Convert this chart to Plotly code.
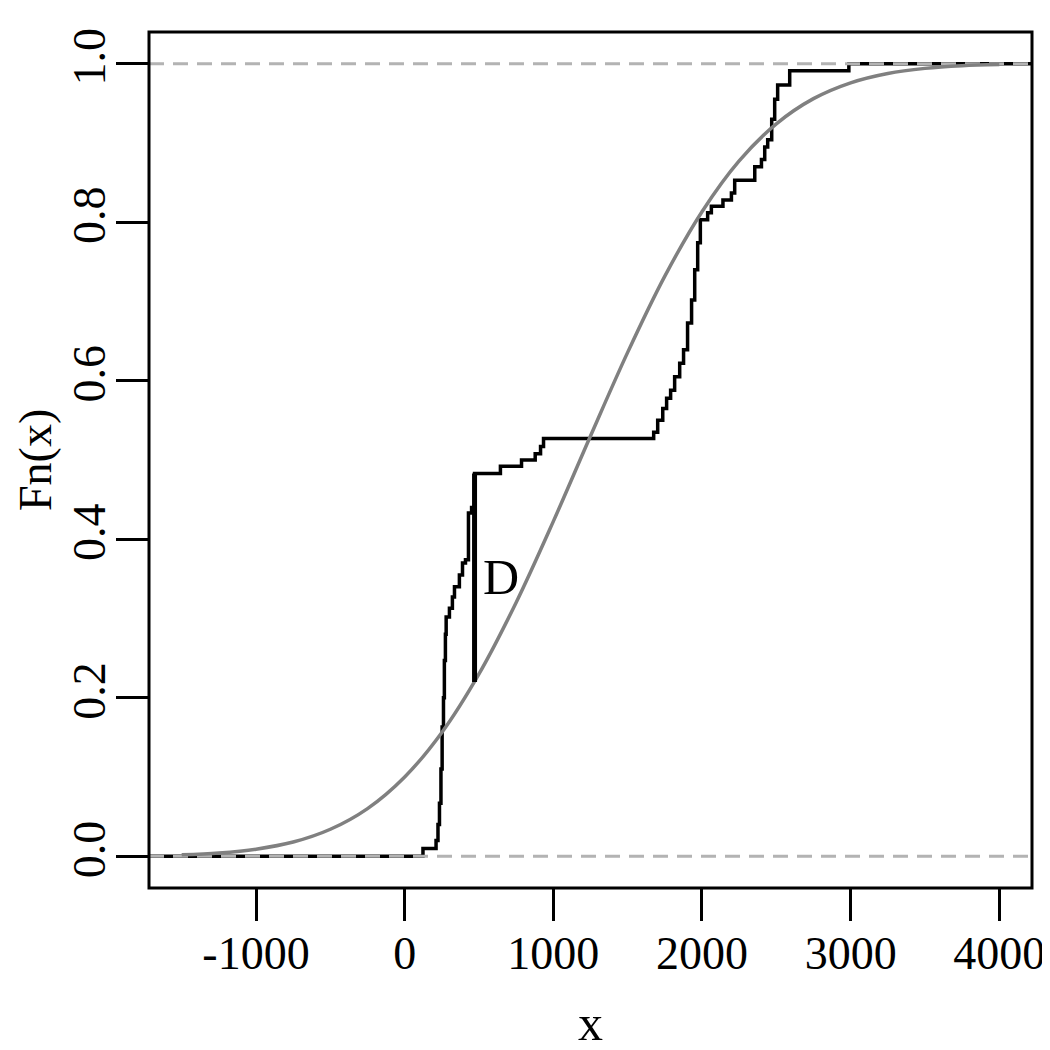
import plotly.graph_objects as go

# empirical CDF: jump locations and the level reached after each jump
ecdf_x = [-1720, 123, 211, 224, 234, 244, 252, 261, 267, 274, 279, 301, 321, 335,
          368, 389, 409, 429, 450, 470, 644, 786, 878, 914, 934, 1675, 1702, 1736,
          1762, 1789, 1816, 1850, 1876, 1903, 1930, 1951, 1971, 1989, 2038, 2063,
          2141, 2198, 2220, 2355, 2400, 2422, 2442, 2469, 2489, 2509, 2590, 2988, 4220]
ecdf_y = [0.0, 0.0097, 0.02, 0.04, 0.067, 0.11, 0.163, 0.2, 0.247, 0.28, 0.302, 0.313,
          0.327, 0.34, 0.355, 0.37, 0.374, 0.433, 0.44, 0.483, 0.492, 0.5, 0.508, 0.517,
          0.527, 0.535, 0.55, 0.565, 0.578, 0.588, 0.605, 0.622, 0.639, 0.673, 0.702,
          0.74, 0.774, 0.803, 0.812, 0.82, 0.828, 0.837, 0.853, 0.87, 0.879, 0.895,
          0.904, 0.93, 0.955, 0.973, 0.991, 1.0, 1.0]

# fitted normal CDF
norm_x = [-1500, -1250, -1000, -750, -500, -250, 0, 250, 500, 750, 1000, 1250,
          1500, 1750, 2000, 2250, 2500, 2750, 3000, 3250, 3500, 3750, 4000]
norm_y = [0.0018, 0.0042, 0.009, 0.018, 0.0341, 0.0602, 0.1001, 0.1563, 0.2302,
          0.3203, 0.4226, 0.5303, 0.6358, 0.732, 0.8133, 0.8774, 0.9241, 0.9559,
          0.9759, 0.9877, 0.9941, 0.9974, 0.9989]

# KS distance D
d_x = [470, 470]
d_y = [0.220, 0.483]

x_range = [-1720, 4220]
y_range = [-0.04, 1.04]
x_ticks = [-1000, 0, 1000, 2000, 3000, 4000]
x_ticktext = ['-1000', '0', '1000', '2000', '3000', '4000']
y_ticks = [0.0, 0.2, 0.4, 0.6, 0.8, 1.0]
y_ticktext = ['0.0', '0.2', '0.4', '0.6', '0.8', '1.0']

FONT = 'Liberation Serif, Times New Roman, serif'

fig = go.Figure()

# step function
fig.add_trace(go.Scatter(
    x=ecdf_x, y=ecdf_y, mode='lines', line=dict(color='black', width=3.5, shape='hv'),
    showlegend=False, hoverinfo='skip'
))

# dashed 0 / 1 reference lines
for level in [0, 1]:
    fig.add_trace(go.Scatter(
        x=x_range, y=[level, level], mode='lines',
        line=dict(color='#b3b3b3', width=3, dash='15px,9px'),
        showlegend=False, hoverinfo='skip'
    ))

# normal curve
fig.add_trace(go.Scatter(
    x=norm_x, y=norm_y, mode='lines',
    line=dict(color='#808080', width=3.5, shape='spline', smoothing=1.0),
    showlegend=False, hoverinfo='skip'
))

# D segment
fig.add_trace(go.Scatter(
    x=d_x, y=d_y, mode='lines', line=dict(color='black', width=5),
    showlegend=False, hoverinfo='skip'
))

# page body has an 8px margin, so the figure is 8px smaller to fit the window
fig.update_layout(
    width=1042, height=1042,
    margin=dict(l=141, r=18, t=24, b=162),
    paper_bgcolor='white', plot_bgcolor='white',
    font=dict(family=FONT, color='black', size=46),
    xaxis=dict(
        range=x_range, tickvals=x_ticks, ticktext=x_ticktext, ticks='outside',
        ticklen=32, tickwidth=3, tickcolor='black', showgrid=False, zeroline=False,
        showline=False, automargin=False,
        tickfont=dict(family=FONT, size=46, color='black'), ticklabelstandoff=-7
    ),
    yaxis=dict(
        range=y_range, tickvals=y_ticks, ticktext=y_ticktext, ticks='outside',
        ticklen=32, tickwidth=3, tickcolor='black', showgrid=False, zeroline=False,
        showline=False, automargin=False, tickangle=-90,
        tickfont=dict(family=FONT, size=46, color='black'), ticklabelstandoff=-7
    ),
    shapes=[dict(type='rect', xref='paper', yref='paper', x0=0, x1=1, y0=0, y1=1,
                 line=dict(color='black', width=3))],
    annotations=[
        dict(text='D', x=d_x[0], y=0.352, xref='x', yref='y', xanchor='left',
             yanchor='middle', xshift=6, showarrow=False,
             font=dict(family=FONT, size=50, color='black')),
        dict(text='x', x=0.5, y=-0.158, xref='paper', yref='paper', xanchor='center',
             yanchor='middle', showarrow=False,
             font=dict(family=FONT, size=50, color='black')),
        dict(text='Fn(x)', x=-0.1291, y=0.5, xref='paper', yref='paper',
             xanchor='center', yanchor='middle', textangle=-90, showarrow=False,
             font=dict(family=FONT, size=46, color='black')),
    ]
)

fig.write_html("out.html")
